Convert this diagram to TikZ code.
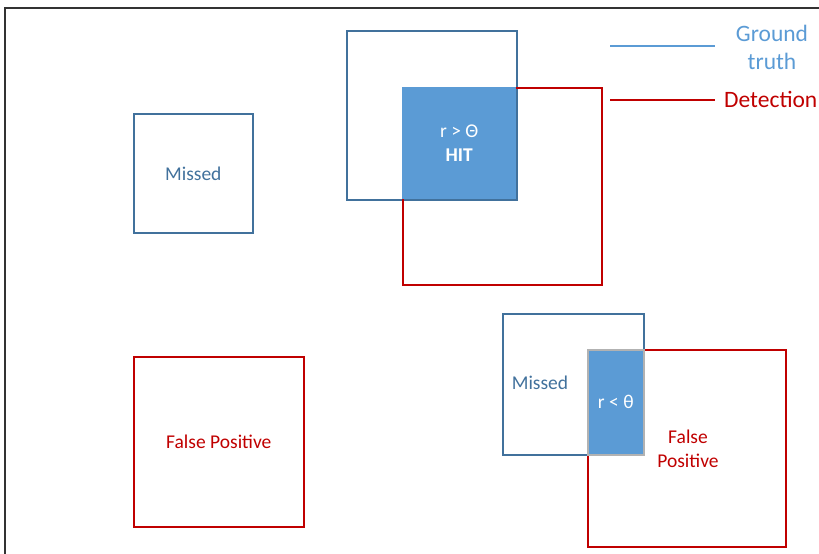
\documentclass[tikz,border=0pt]{standalone}
\usepackage{fontspec}
\setmainfont{Carlito}

\definecolor{gtblue}{HTML}{41719C}
\definecolor{hitblue}{HTML}{5B9BD5}
\definecolor{detred}{HTML}{C00000}

\newcommand{\boxfont}{\fontsize{19.5pt}{23.5pt}\selectfont}
\newcommand{\keyfont}{\fontsize{23.5pt}{28pt}\selectfont}

\tikzset{
    gtbox/.style={draw=gtblue, line width=1.6pt, text=gtblue, inner sep=0pt, anchor=north west},
    detbox/.style={draw=detred, line width=1.6pt, text=detred, inner sep=0pt, anchor=north west},
    hitbox/.style={fill=hitblue, text=white, inner sep=0pt, anchor=north west, align=center},
    boxtext/.style={font=\boxfont, align=center, inner sep=0pt}
}

\begin{document}
\begin{tikzpicture}[x=1pt, y=-1pt]
    \useasboundingbox (0,0) rectangle (819,554);
    \draw[line width=1.3pt, black!80] (5,554) -- (5,8) -- (819,8);

    % lone boxes on the left
    \node[gtbox, boxtext, minimum width=119pt, minimum height=119pt] (missA) at (133,113) {Missed};
    \node[detbox, boxtext, minimum width=170pt, minimum height=170pt] (fpA) at (133,356) {False Positive};

    % overlap above threshold
    \node[gtbox, minimum width=170pt, minimum height=169pt] (gtA) at (346,30) {};
    \node[detbox, minimum width=199pt, minimum height=197pt] (detA) at (402,87) {};
    \node[hitbox, font=\boxfont, minimum width=114pt, minimum height=112pt] (hitA) at (402,87) {r > Θ\\\textbf{HIT}};

    % overlap below threshold
    \node[gtbox, minimum width=141pt, minimum height=141pt] (gtB) at (502,313) {};
    \node[detbox, minimum width=198pt, minimum height=197pt] (detB) at (587,349) {};
    \node[hitbox, draw=black!30, line width=1.6pt, font=\boxfont, minimum width=56pt, minimum height=105pt] (hitB) at (587,349) {r < θ};
    \node[boxtext, text=gtblue] (missB) at (540,383) {Missed};
    \node[boxtext, text=detred] (fpB) at (688,449) {False\\Positive};

    % key
    \coordinate (gtl) at (610,46);
    \coordinate (gtr) at (715,46);
    \coordinate (detl) at (610,100);
    \coordinate (detr) at (715,100);
    \draw[hitblue, line width=1.6pt] (gtl) -- (gtr);
    \draw[detred, line width=1.6pt] (detl) -- (detr);
    \node[font=\keyfont, text=hitblue, align=center, inner sep=0pt] (gtkey) at (772,47) {Ground\\truth};
    \node[font=\keyfont, text=detred, inner sep=0pt, anchor=base west] (detkey) at (724,107) {Detection};
\end{tikzpicture}
\end{document}
